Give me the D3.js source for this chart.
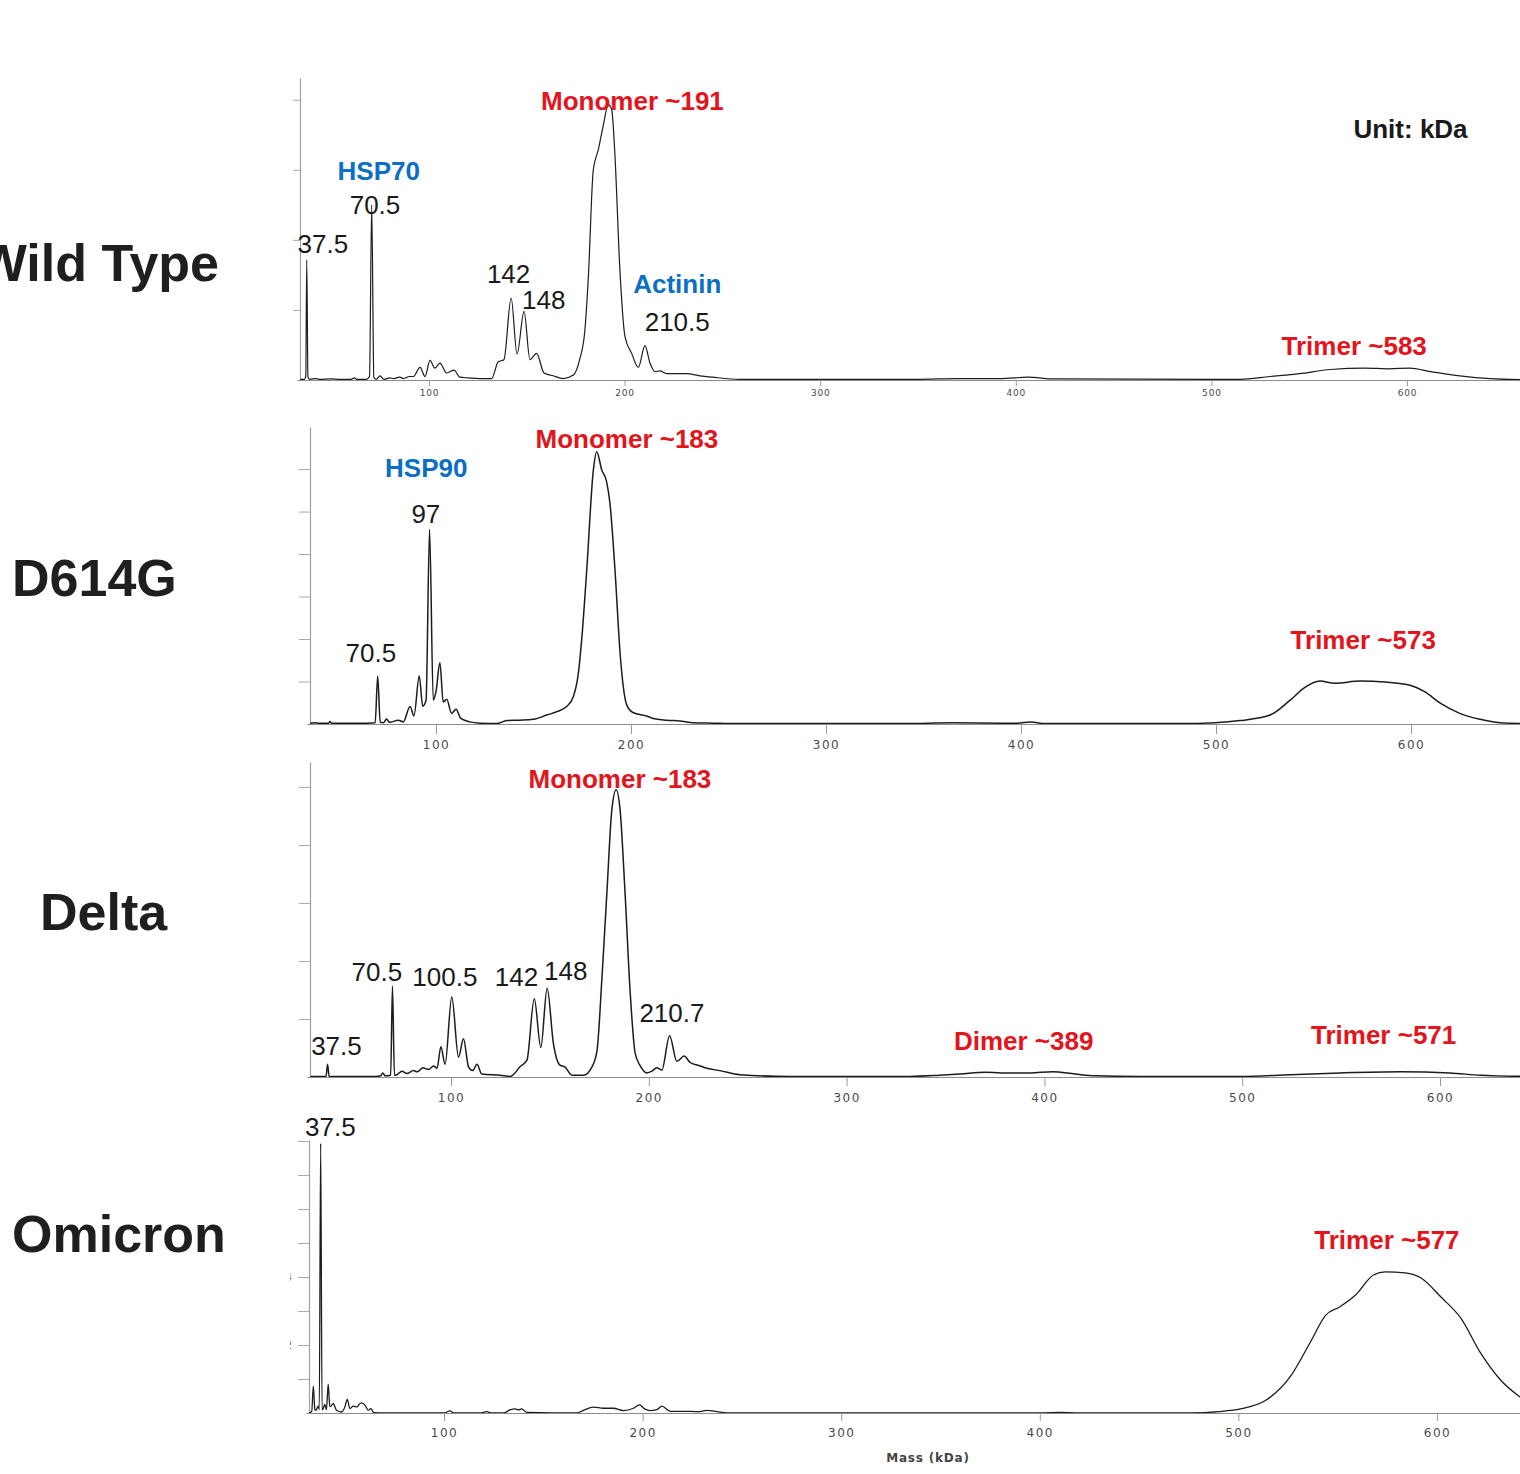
<!DOCTYPE html>
<html>
<head>
<meta charset="utf-8">
<script src="https://cdn.jsdelivr.net/npm/d3@7"></script>
<style>
  body { margin: 0; background: #fff; }
  svg { display: block; }
</style>
</head>
<body>
<div id="chart"></div>
<script>
// ---- data: [mass kDa, relative signal] ----
const wildTypeTrace = [
  [34,0.01],[36.2,0.01],[37,0.05],[37.5,1.71],[38.1,0.04],[39,0.01],[42,0.02],[44,0.01],[50,0.015],[55,0.01],
  [60,0.01],[62,0.03],[63,0.01],[68,0.01],[69.6,0.05],[70.7,2.5],[71.8,0.04],[73,0.01],[75,0.06],[77,0.01],
  [80,0.03],[82,0.02],[85,0.04],[87,0.02],[90,0.05],[92,0.05],[95.4,0.18],[98,0.05],[100.5,0.28],[103,0.17],
  [105.6,0.24],[109,0.10],[112.8,0.14],[115.8,0.04],[120,0.03],[126,0.02],[132,0.02],[135.4,0.26],[138.3,0.29],
  [142,1.17],[145,0.37],[148.6,0.98],[151.6,0.29],[155,0.38],[158.8,0.10],[163.5,0.06],[168.6,0.02],[173.8,0.07],
  [177,0.29],[179.7,0.71],[181.4,1.43],[184,3.0],[186.6,3.29],[189,3.62],[191.7,3.93],[193.4,3.86],[195,3.24],
  [197.6,1.57],[200.2,0.62],[203.6,0.38],[207,0.18],[210.4,0.49],[213,0.24],[215.5,0.12],[218,0.13],[221.5,0.09],
  [228,0.09],[231.7,0.09],[238.5,0.06],[245,0.04],[259,0.01],[300,0.01],[350,0.01],[370,0.02],[392,0.02],
  [406,0.04],[420,0.015],[500,0.01],[514.6,0.01],[530,0.05],[545,0.09],[560.7,0.15],[578.5,0.17],[591,0.16],
  [601.5,0.17],[612,0.12],[627,0.06],[642.5,0.02],[660,0.005]
];

const d614gTrace = [
  [35.4,0.02],[38,0.03],[40,0.02],[45,0.02],[45.6,0.06],[46.5,0.02],[50,0.02],[55,0.02],[60,0.02],[65,0.02],
  [68.8,0.03],[70.1,1.13],[71.4,0.04],[73,0.03],[74.7,0.12],[76,0.04],[77.3,0.05],[80.7,0.09],[83.2,0.05],
  [86.7,0.41],[88.7,0.19],[91.4,1.13],[93.2,0.42],[94.9,0.56],[96.7,4.58],[98.6,0.56],[100,0.76],[102,1.44],
  [103.7,0.52],[105.5,0.58],[108,0.25],[110.3,0.35],[112.7,0.13],[117.4,0.05],[122.6,0.02],[131,0.01],
  [136.3,0.08],[143,0.09],[150,0.11],[156.8,0.21],[162,0.29],[167,0.41],[170.4,0.64],[173,1.19],[174.7,1.98],
  [177.3,3.62],[180.7,5.98],[182.4,6.41],[185,5.98],[187.5,5.7],[189.2,5.2],[191.8,3.62],[194.4,1.67],
  [195.5,1.1],[197.8,0.45],[201,0.27],[208,0.19],[211.4,0.13],[218.3,0.09],[225,0.07],[232,0.03],[242,0.02],
  [256,0.01],[340,0.01],[365,0.03],[390,0.02],[398,0.02],[405,0.05],[412,0.01],[481.5,0.01],[499.5,0.03],
  [512.3,0.08],[527.7,0.21],[538,0.56],[545.6,0.86],[553.3,1.01],[561,0.96],[573.8,1.01],[586.7,0.99],
  [599.5,0.91],[607,0.76],[615,0.49],[625,0.25],[635.4,0.11],[645.6,0.03],[658,0.01]
];

const deltaTrace = [
  [28.8,0.01],[33,0.01],[36.8,0.01],[37.6,0.22],[38.4,0.01],[45,0.01],[55,0.01],[62,0.01],[64.5,0.02],
  [65.5,0.07],[66.7,0.02],[69.5,0.03],[70.4,1.57],[71.4,0.03],[72.6,0.04],[75.2,0.1],[77.7,0.06],[81,0.11],
  [83,0.09],[85.8,0.16],[88.6,0.13],[91.2,0.19],[92.9,0.15],[94.9,0.52],[97,0.22],[100.4,1.38],[103.8,0.34],
  [106.3,0.66],[108.9,0.17],[111,0.11],[113.1,0.22],[115.6,0.05],[124.9,0.03],[130,0.01],[135,0.18],
  [138.4,0.29],[142.1,1.35],[145.4,0.51],[148.6,1.53],[151.8,0.57],[154.9,0.21],[157.7,0.17],[161.1,0.03],
  [167,0.03],[171.2,0.17],[173.8,0.45],[176.3,1.7],[178.8,3.17],[181.3,4.6],[183.5,4.95],[185.5,4.6],
  [188,3.17],[190.6,1.45],[193.1,0.41],[195.7,0.19],[199,0.07],[201.6,0.1],[204,0.16],[206.6,0.12],
  [210.5,0.71],[214.2,0.27],[217.9,0.36],[220.9,0.25],[226,0.19],[229.4,0.15],[236,0.11],[246,0.04],
  [271.5,0.01],[332,0.01],[347,0.03],[357.4,0.05],[370,0.08],[382.7,0.07],[392.8,0.07],[404.2,0.09],
  [415.6,0.05],[425.7,0.02],[448.4,0.01],[499,0.01],[524.3,0.04],[549.5,0.07],[580,0.09],[605,0.07],
  [620.3,0.03],[642.6,0.01]
];

const omicronTrace = [
  [32,0.0],[33.4,0.05],[34.2,0.79],[35,0.1],[35.5,0.08],[36.7,0.2],[37.2,0.1],[37.9,7.93],[38.6,0.1],
  [38.9,0.1],[40,0.25],[40.8,0.1],[41.7,0.85],[42.5,0.2],[42.9,0.19],[44.2,0.28],[45.9,0.08],[48.5,0.03],
  [50.1,0.18],[51.3,0.4],[52.6,0.13],[54.3,0.2],[56.3,0.18],[57.3,0.26],[58.5,0.3],[60.2,0.23],[61.9,0.08],
  [63.1,0.13],[64.7,0.01],[70,0.0],[100,0.0],[103,0.06],[105,0.0],[118,0.0],[121.5,0.04],[124,0.0],[130,0.0],
  [133.2,0.09],[135.8,0.12],[137.5,0.09],[139.1,0.12],[141.7,0.02],[166.9,0.0],[170.2,0.08],[175.2,0.17],
  [180.3,0.14],[185.3,0.14],[190.3,0.07],[195.4,0.14],[198.4,0.24],[201,0.12],[203.8,0.07],[207.2,0.1],
  [209.7,0.2],[213.9,0.05],[218.9,0.05],[229,0.04],[232.3,0.08],[237.4,0.04],[242.4,0.0],[400,0.0],
  [410,0.02],[420,0.0],[476,0.0],[490,0.04],[501,0.12],[514,0.38],[526,1.06],[536,2.06],[544,2.88],
  [551,3.12],[559,3.47],[568,4.06],[574,4.15],[584,4.12],[592,3.97],[602,3.41],[612,2.79],[622,1.76],
  [632,0.97],[644,0.38]
];

const massTicks = [100, 200, 300, 400, 500, 600];

// annotations: text anchored at (mass, signal level)
const wildTypeLabels = [
  { text: 'Monomer ~191', mass: 204, level: 3.86, kind: 'complex' },
  { text: 'HSP70', mass: 74.3, level: 2.86, kind: 'protein' },
  { text: '70.5', mass: 72.4, level: 2.37, kind: 'mass' },
  { text: '37.5', mass: 45.7, level: 1.81, kind: 'mass' },
  { text: '142', mass: 140.7, level: 1.39, kind: 'mass' },
  { text: '148', mass: 158.7, level: 1.01, kind: 'mass' },
  { text: 'Actinin', mass: 226.9, level: 1.24, kind: 'protein' },
  { text: '210.5', mass: 226.9, level: 0.70, kind: 'mass' },
  { text: 'Trimer ~583', mass: 573, level: 0.36, kind: 'complex' },
  { text: 'Unit: kDa', mass: 601.8, level: 3.46, kind: 'unit' }
];
const d614gLabels = [
  { text: 'Monomer ~183', mass: 197.9, level: 6.49, kind: 'complex' },
  { text: 'HSP90', mass: 95, level: 5.82, kind: 'protein' },
  { text: '97', mass: 94.8, level: 4.74, kind: 'mass' },
  { text: '70.5', mass: 66.6, level: 1.45, kind: 'mass' },
  { text: 'Trimer ~573', mass: 575.5, level: 1.76, kind: 'complex' }
];
const deltaLabels = [
  { text: 'Monomer ~183', mass: 185.4, level: 4.98, kind: 'complex' },
  { text: '70.5', mass: 62.5, level: 1.66, kind: 'mass' },
  { text: '100.5', mass: 96.9, level: 1.57, kind: 'mass' },
  { text: '142', mass: 133.1, level: 1.57, kind: 'mass' },
  { text: '148', mass: 158, level: 1.67, kind: 'mass' },
  { text: '210.7', mass: 211.7, level: 0.94, kind: 'mass' },
  { text: '37.5', mass: 42.1, level: 0.38, kind: 'mass' },
  { text: 'Dimer ~389', mass: 389.5, level: 0.46, kind: 'complex' },
  { text: 'Trimer ~571', mass: 571.5, level: 0.57, kind: 'complex' }
];
const omicronLabels = [
  { text: '37.5', mass: 42.8, level: 8.16, kind: 'mass' },
  { text: 'Trimer ~577', mass: 574.8, level: 4.82, kind: 'complex' }
];

// ---- layout ----
const W = 1520, H = 1474;
const labelFont = '"Liberation Sans", Arial, Helvetica, sans-serif';
const kindStyle = {
  complex: { fill: '#e3141b', weight: 'bold' },
  protein: { fill: '#0b6fc4', weight: 'bold' },
  mass:    { fill: '#1a1a1a', weight: 'normal' },
  unit:    { fill: '#1a1a1a', weight: 'bold' }
};

const panels = [
  { name: 'Wild Type', trace: wildTypeTrace, labels: wildTypeLabels,
    top: 78, base: 380, axisX: 300, x100: 429, x600: 1407, yTop: 4.31, yTicks: [1,2,3,4],
    xTick: 6, xPad: 4, tickFont: 9, tickSpacing: 0.8, stroke: 1.2,
    nameX: 219, nameY: 281, nameAnchor: 'end' },
  { name: 'D614G', trace: d614gTrace, labels: d614gLabels,
    top: 427, base: 724, axisX: 310, x100: 436, x600: 1411, yTop: 6.99, yTicks: [1,2,3,4,5,6],
    xTick: 10, xPad: 6.5, tickFont: 12, tickSpacing: 1.5, stroke: 1.5,
    nameX: 12, nameY: 596, nameAnchor: 'start' },
  { name: 'Delta', trace: deltaTrace, labels: deltaLabels,
    top: 762, base: 1077, axisX: 310, x100: 451, x600: 1440, yTop: 5.43, yTicks: [1,2,3,4,5],
    xTick: 9, xPad: 7.5, tickFont: 12, tickSpacing: 1.5, stroke: 1.5,
    nameX: 40, nameY: 930, nameAnchor: 'start' },
  { name: 'Omicron', trace: omicronTrace, labels: omicronLabels,
    top: 1140, base: 1413, axisX: 309, x100: 444, x600: 1437, yTop: 8.03, yTicks: [1,2,3,4,5,6,7,8],
    xTick: 8, xPad: 7.5, tickFont: 12, tickSpacing: 1.5, stroke: 1.3,
    nameX: 12, nameY: 1252, nameAnchor: 'start', stubLabels: [2, 4] }
];

const svg = d3.select('#chart').append('svg')
  .attr('width', W)
  .attr('height', H)
  .attr('viewBox', `0 0 ${W} ${H}`);

panels.forEach((p, i) => {
  const g = svg.append('g').attr('class', 'panel');

  // mass scale calibrated on the 100 / 600 ticks, then stretched to the panel edges
  const cal = d3.scaleLinear().domain([100, 600]).range([p.x100, p.x600]);
  const x = d3.scaleLinear()
    .domain([cal.invert(p.axisX - 3), cal.invert(W)])
    .range([p.axisX - 3, W]);
  const y = d3.scaleLinear().domain([0, p.yTop]).range([p.base, p.top]);

  // x axis
  const xAxis = g.append('g')
    .attr('transform', `translate(0,${p.base})`)
    .call(d3.axisBottom(x).tickValues(massTicks).tickSize(p.xTick).tickSizeOuter(0).tickPadding(p.xPad));
  xAxis.select('.domain').attr('stroke', '#8c8c8c').attr('stroke-width', 1.2);
  xAxis.selectAll('.tick line').attr('stroke', '#9a9a9a');
  xAxis.selectAll('.tick text')
    .attr('fill', '#4a4a4a')
    .style('font-family', '"DejaVu Sans", Verdana, sans-serif')
    .style('font-size', p.tickFont + 'px')
    .style('letter-spacing', p.tickSpacing + 'px');

  // y axis (unlabelled)
  const yAxis = g.append('g')
    .attr('transform', `translate(${p.axisX},0)`)
    .call(d3.axisLeft(y).tickValues(p.yTicks).tickSize(p.xTick > 6 ? 11 : 7).tickSizeOuter(0).tickFormat(''));
  yAxis.select('.domain').attr('stroke', '#a0a0a0').attr('stroke-width', 1.2);
  yAxis.selectAll('.tick line').attr('stroke', '#a8a8a8');

  // cut-off tick label remnants at the far left of the last panel
  if (p.stubLabels) {
    const stubId = 'stub-' + i;
    svg.append('clipPath').attr('id', stubId)
      .append('rect').attr('x', 290).attr('y', p.top).attr('width', 1.6).attr('height', p.base - p.top);
    g.append('g').attr('clip-path', `url(#${stubId})`)
      .selectAll('text').data(p.stubLabels).join('text')
      .attr('x', 292).attr('y', d => y(d)).attr('dy', '0.35em')
      .attr('text-anchor', 'end')
      .attr('fill', '#555')
      .style('font-family', '"DejaVu Sans", sans-serif')
      .style('font-size', '11px')
      .text(d => d);
  }

  // trace
  const clipId = 'clip-' + i;
  svg.append('clipPath').attr('id', clipId)
    .append('rect').attr('x', p.axisX).attr('y', p.top - 20)
    .attr('width', W - p.axisX).attr('height', p.base - p.top + 20);

  const line = d3.line()
    .x(d => x(d[0]))
    .y(d => y(d[1]))
    .curve(d3.curveMonotoneX);

  g.append('path')
    .datum(p.trace)
    .attr('clip-path', `url(#${clipId})`)
    .attr('fill', 'none')
    .attr('stroke', '#1c1c1c')
    .attr('stroke-width', p.stroke)
    .attr('stroke-linejoin', 'round')
    .attr('d', line);

  // peak annotations
  g.selectAll('text.ann')
    .data(p.labels)
    .join('text')
    .attr('class', 'ann')
    .attr('x', d => x(d.mass))
    .attr('y', d => y(d.level))
    .attr('text-anchor', 'middle')
    .attr('fill', d => kindStyle[d.kind].fill)
    .style('font-family', labelFont)
    .style('font-weight', d => kindStyle[d.kind].weight)
    .style('font-size', '26px')
    .text(d => d.text);

  // variant name
  g.append('text')
    .attr('x', p.nameX)
    .attr('y', p.nameY)
    .attr('text-anchor', p.nameAnchor)
    .attr('fill', '#1f1f1f')
    .style('font-family', labelFont)
    .style('font-weight', 'bold')
    .style('font-size', '52px')
    .text(p.name);
});

// shared axis title
svg.append('text')
  .attr('x', 928)
  .attr('y', 1462)
  .attr('text-anchor', 'middle')
  .attr('fill', '#444')
  .style('font-family', '"DejaVu Sans", Verdana, sans-serif')
  .style('font-weight', 'bold')
  .style('font-size', '12px')
  .style('letter-spacing', '0.8px')
  .text('Mass (kDa)');
</script>
</body>
</html>
